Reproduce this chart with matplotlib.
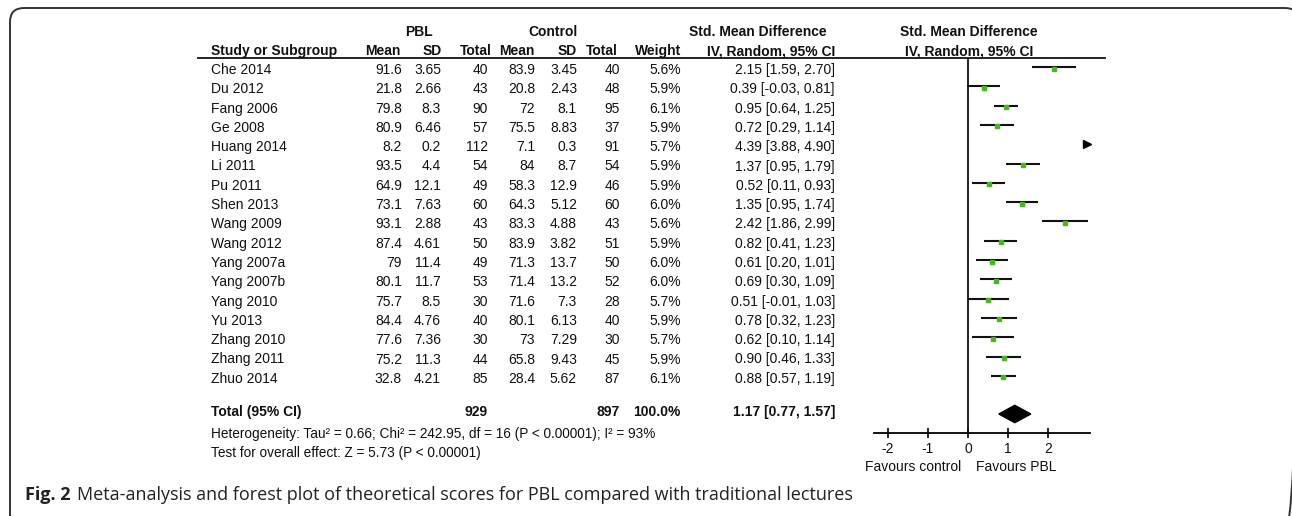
import matplotlib
matplotlib.use('Agg')
import matplotlib.pyplot as plt
from matplotlib.patches import FancyBboxPatch, Polygon

# data
studies = ['Che 2014', 'Du 2012', 'Fang 2006', 'Ge 2008', 'Huang 2014', 'Li 2011',
           'Pu 2011', 'Shen 2013', 'Wang 2009', 'Wang 2012', 'Yang 2007a', 'Yang 2007b',
           'Yang 2010', 'Yu 2013', 'Zhang 2010', 'Zhang 2011', 'Zhuo 2014']
pbl_mean = [91.6, 21.8, 79.8, 80.9, 8.2, 93.5, 64.9, 73.1, 93.1, 87.4, 79, 80.1, 75.7, 84.4, 77.6, 75.2, 32.8]
pbl_sd = [3.65, 2.66, 8.3, 6.46, 0.2, 4.4, 12.1, 7.63, 2.88, 4.61, 11.4, 11.7, 8.5, 4.76, 7.36, 11.3, 4.21]
pbl_n = [40, 43, 90, 57, 112, 54, 49, 60, 43, 50, 49, 53, 30, 40, 30, 44, 85]
ctl_mean = [83.9, 20.8, 72, 75.5, 7.1, 84, 58.3, 64.3, 83.3, 83.9, 71.3, 71.4, 71.6, 80.1, 73, 65.8, 28.4]
ctl_sd = [3.45, 2.43, 8.1, 8.83, 0.3, 8.7, 12.9, 5.12, 4.88, 3.82, 13.7, 13.2, 7.3, 6.13, 7.29, 9.43, 5.62]
ctl_n = [40, 48, 95, 37, 91, 54, 46, 60, 43, 51, 50, 52, 28, 40, 30, 45, 87]
weight = [5.6, 5.9, 6.1, 5.9, 5.7, 5.9, 5.9, 6.0, 5.6, 5.9, 6.0, 6.0, 5.7, 5.9, 5.7, 5.9, 6.1]
smd = [2.15, 0.39, 0.95, 0.72, 4.39, 1.37, 0.52, 1.35, 2.42, 0.82, 0.61, 0.69, 0.51, 0.78, 0.62, 0.90, 0.88]
ci_lo = [1.59, -0.03, 0.64, 0.29, 3.88, 0.95, 0.11, 0.95, 1.86, 0.41, 0.20, 0.30, -0.01, 0.32, 0.10, 0.46, 0.57]
ci_hi = [2.70, 0.81, 1.25, 1.14, 4.90, 1.79, 0.93, 1.74, 2.99, 1.23, 1.01, 1.09, 1.03, 1.23, 1.14, 1.33, 1.19]
total_pbl, total_ctl = 929, 897
total_smd, total_lo, total_hi = 1.17, 0.77, 1.57
xticks = [-2, -1, 0, 1, 2]
heterogeneity = 'Heterogeneity: Tau² = 0.66; Chi² = 242.95, df = 16 (P < 0.00001); I² = 93%'
overall = 'Test for overall effect: Z = 5.73 (P < 0.00001)'
caption = 'Meta-analysis and forest plot of theoretical scores for PBL compared with traditional lectures'

W, H = 1292, 516
plt.rcParams['font.family'] = ['Liberation Sans', 'DejaVu Sans']
fig = plt.figure(figsize=(W / 100, H / 100), dpi=100)
ax = fig.add_axes([0, 0, 1, 1])
ax.set_xlim(0, W)
ax.set_ylim(H, 0)
ax.axis('off')

# frame round the figure (right and bottom edges fall off the picture)
frame = FancyBboxPatch((10, 8), 1289, 522, boxstyle='round,pad=0,rounding_size=14',
                       fill=False, ec='#333333', lw=1.4, clip_on=False)
ax.add_patch(frame)

ROW0 = 67     # whisker y of first study (px)
STEP = 19.3
TXT_OFF = 3
fs = 10
tc = '#111111'

# header
hdr = dict(fontsize=fs, fontweight='bold', color=tc, va='baseline')
ax.text(419, 36, 'PBL', ha='center', **hdr)
ax.text(553, 36, 'Control', ha='center', **hdr)
ax.text(758, 36, 'Std. Mean Difference', ha='center', **hdr)
ax.text(969, 36, 'Std. Mean Difference', ha='center', **hdr)
ax.text(211, 55, 'Study or Subgroup', ha='left', **hdr)
for x, s in [(400, 'Mean'), (442, 'SD'), (492, 'Total'), (535, 'Mean'), (577, 'SD'),
             (618, 'Total'), (681, 'Weight'), (835, 'IV, Random, 95% CI')]:
    ax.text(x, 55, s, ha='right', **hdr)
ax.text(969, 55, 'IV, Random, 95% CI', ha='center', **hdr)
ax.plot([198, 1105], [58, 58], color='#111111', lw=1.3)

# study rows
cols = [402, 441, 488, 535, 577, 620, 681, 835]
for i, name in enumerate(studies):
    y = ROW0 + STEP * i + TXT_OFF
    ax.text(211, y, name, ha='left', va='center', fontsize=fs, color=tc)
    vals = ['%g' % pbl_mean[i], '%g' % pbl_sd[i], '%d' % pbl_n[i],
            '%g' % ctl_mean[i], '%g' % ctl_sd[i], '%d' % ctl_n[i],
            '%.1f%%' % weight[i], '%.2f [%.2f, %.2f]' % (smd[i], ci_lo[i], ci_hi[i])]
    for x, v in zip(cols, vals):
        ax.text(x, y, v, ha='right', va='center', fontsize=fs, color=tc)

# total row
yt = 412
bold = dict(ha='right', va='center', fontsize=fs, fontweight='bold', color=tc)
ax.text(211, yt, 'Total (95% CI)', ha='left', va='center', fontsize=fs, fontweight='bold', color=tc)
ax.text(cols[2], yt, '%d' % total_pbl, **bold)
ax.text(cols[5], yt, '%d' % total_ctl, **bold)
ax.text(cols[6], yt, '100.0%', **bold)
ax.text(cols[7], yt, '%.2f [%.2f, %.2f]' % (total_smd, total_lo, total_hi), **bold)
ax.text(211, 434, heterogeneity, ha='left', va='center', fontsize=9.8, color=tc)
ax.text(211, 453, overall, ha='left', va='center', fontsize=9.8, color=tc)

# caption
cap_font = ['Open Sans', 'DejaVu Sans']
t = ax.text(25, 495, 'Fig. 2', ha='left', va='center', fontsize=13, fontweight='bold',
            family=cap_font, color='#222222')
fig.canvas.draw()
bb = t.get_window_extent()
ax.text(bb.x1 + 6, 495, caption, ha='left', va='center', fontsize=13,
        family=cap_font, color='#222222')

# forest plot
x0, x1 = 874, 1090
y_top, y_bot = 58, 433
fx = fig.add_axes([x0 / W, 1 - y_bot / H, (x1 - x0) / W, (y_bot - y_top) / H])
xmin, xmax = -2.35, 3.05
fx.set_xlim(xmin, xmax)
fx.set_ylim((y_bot - ROW0) / STEP, (y_top - ROW0) / STEP)
fx.patch.set_alpha(0)
for s in ['top', 'right', 'left']:
    fx.spines[s].set_visible(False)
fx.spines['bottom'].set_linewidth(1.3)
fx.set_yticks([])
fx.set_xticks(xticks)
fx.set_xticklabels(['%d' % t for t in xticks], fontsize=fs)
fx.tick_params(axis='x', direction='inout', length=7, width=1.3, pad=3, colors='#111111')
fx.axvline(0, color='#111111', lw=1.3)

for i in range(len(studies)):
    if ci_lo[i] > xmax:
        # off the scale: arrow at the right end
        fx.plot([xmax - 0.08], [i], marker='>', ms=6, color='black', clip_on=False)
        continue
    fx.plot([ci_lo[i], ci_hi[i]], [i, i], color='#111111', lw=1.5, solid_capstyle='butt')
    fx.plot([smd[i]], [i + 0.08], marker='s', ms=weight[i] * 0.55, color='#43b91c',
            mec='#43b91c', zorder=3)

yd = (414 - ROW0) / STEP
dh = 0.45
fx.add_patch(Polygon([(total_lo, yd), (total_smd, yd - dh), (total_hi, yd), (total_smd, yd + dh)],
                     closed=True, color='black'))

ax.text(961, 467, 'Favours control', ha='right', va='center', fontsize=fs, color=tc)
ax.text(976, 467, 'Favours PBL', ha='left', va='center', fontsize=fs, color=tc)

fig.savefig('out.png', dpi=100)
